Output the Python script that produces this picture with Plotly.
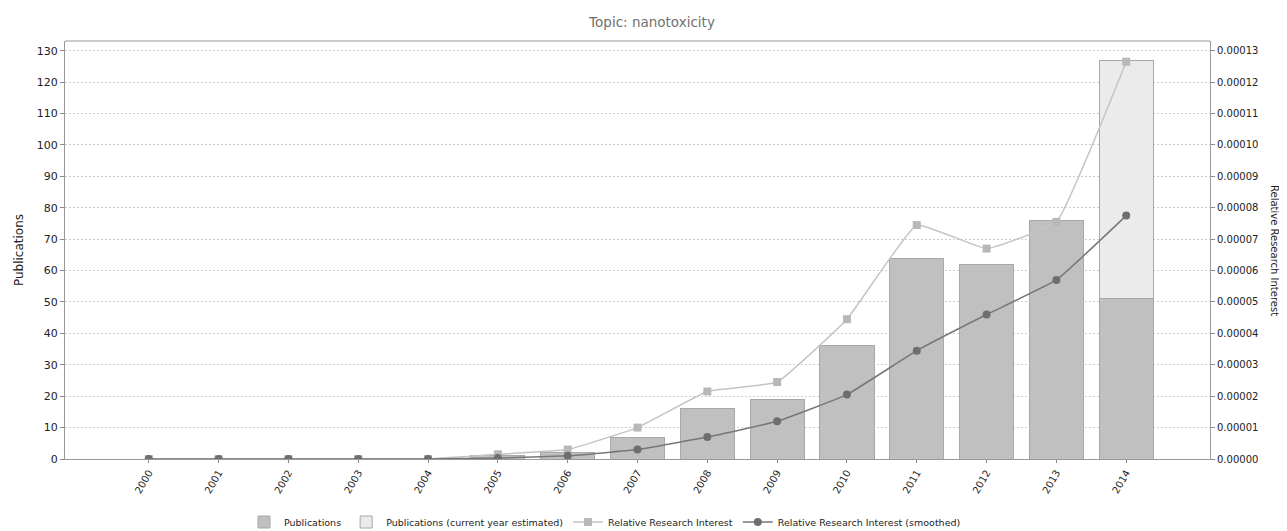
import plotly.graph_objects as go

years = ["2000", "2001", "2002", "2003", "2004", "2005", "2006", "2007",
         "2008", "2009", "2010", "2011", "2012", "2013", "2014"]
publications = [0, 0, 0, 0, 0, 1, 2, 7, 16, 19, 36, 64, 62, 76, 51]
estimated_extra = [0, 0, 0, 0, 0, 0, 0, 0, 0, 0, 0, 0, 0, 0, 76]
rri = [0, 0, 0, 0, 0, 0.0000015, 0.000003, 0.0000100, 0.0000215, 0.0000245,
       0.0000445, 0.0000745, 0.0000670, 0.0000755, 0.0001265]
rri_smooth = [0, 0, 0, 0, 0, 0.0000003, 0.000001, 0.000003, 0.000007, 0.000012,
              0.0000205, 0.0000345, 0.000046, 0.000057, 0.0000775]

FONT = "DejaVu Sans"
W, H = 1279, 523
fig = go.Figure()
fig.add_trace(go.Bar(x=years, y=publications, name="Publications",
                     marker=dict(color="#c0c0c0", line=dict(color="#a8a8a8", width=1)),
                     width=0.775))
fig.add_trace(go.Bar(x=years, y=estimated_extra, name="Publications (current year estimated)",
                     marker=dict(color="#ebebeb", line=dict(color="#a8a8a8", width=1)),
                     width=0.775))
fig.add_trace(go.Scatter(x=years, y=rri, name="Relative Research Interest", yaxis="y2",
                         mode="lines+markers", line=dict(color="#c4c4c4", width=1.5, shape="spline", smoothing=0.3),
                         marker=dict(symbol="square", size=8, color="#b8b8b8")))
fig.add_trace(go.Scatter(x=years, y=rri_smooth, name="Relative Research Interest (smoothed)", yaxis="y2",
                         mode="lines+markers", line=dict(color="#777777", width=1.5, shape="spline", smoothing=0.3),
                         marker=dict(symbol="circle", size=8, color="#6e6e6e")))

fig.update_layout(
    width=W, height=H,
    barmode="stack",
    plot_bgcolor="white", paper_bgcolor="white",
    margin=dict(l=57, r=77, t=33, b=72, autoexpand=False),
    font=dict(family=FONT, size=10, color="#333333"),
    title=dict(text="Topic: nanotoxicity", x=(652 - 8) / W, xanchor="center", y=1 - 14 / H, yanchor="middle",
               font=dict(family=FONT, size=13.5, color="#707070")),
    xaxis=dict(type="category", range=[-1.2, 15.2], tickangle=-60, ticks="outside", ticklen=3,
               tickcolor="#888888", showline=True, linecolor="#999999", linewidth=1, mirror=False,
               showgrid=False, tickfont=dict(size=10, color="#222222"), automargin=False),
    yaxis=dict(range=[0, 133.1], dtick=10, tick0=0, ticks="outside", ticklen=4, tickcolor="#888888",
               showline=True, linecolor="#999999", linewidth=1, showgrid=True,
               gridcolor="#cccccc", griddash="2px,2px", gridwidth=1, zeroline=False, automargin=False,
               title=dict(text="Publications", font=dict(size=12, color="#222222"), standoff=10),
               tickfont=dict(size=11, color="#222222")),
    yaxis2=dict(range=[0, 0.0001331], dtick=0.00001, tick0=0, overlaying="y", side="right",
                tickformat=".5f", ticks="outside", ticklen=4, tickcolor="#888888", automargin=False,
                showline=True, linecolor="#999999", linewidth=1, showgrid=False, zeroline=False,
                tickfont=dict(size=10, color="#222222")),
    legend=dict(orientation="h", x=(605 - 65) / 1145, xanchor="center", y=-(522 - 459) / 418, yanchor="middle",
                font=dict(size=9.5, color="#222222"), itemwidth=30, tracegroupgap=0,
                traceorder="normal"),
    annotations=[dict(text="Relative Research Interest", textangle=90, xref="paper", yref="paper",
                      x=(1275 - 65) / 1145, xanchor="center", y=0.5, showarrow=False,
                      font=dict(size=10, color="#222222"))],
)
fig.add_shape(type="line", xref="paper", yref="paper", x0=0, x1=1, y0=1, y1=1,
              line=dict(color="#999999", width=1))

fig.write_html("out.html")
